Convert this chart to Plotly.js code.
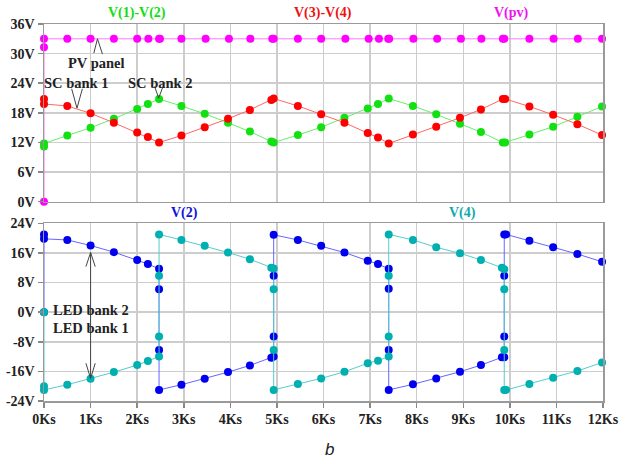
<!DOCTYPE html>
<html>
<head>
<meta charset="utf-8">
<script src="https://cdn.plot.ly/plotly-3.0.1.min.js"></script>
<style>html,body{margin:0;padding:0;background:#fff;}#chart{width:620px;height:460px;}</style>
</head>
<body>
<div id="chart"></div>
<script>
// ---- Data (time in Ks, voltage in V) ----
const tTop = [0,0, 0.5,1,1.5,2,2.23,2.47, 2.95,3.45,3.95,4.42,4.88,4.93, 5.45,5.95,6.45,6.95,7.17,7.4, 7.92,8.42,8.93,9.38,9.85,9.9, 10.42,10.93,11.45,11.98];
const v34 = [20.8,19.8, 19.4,17.9,16.0,14.0,13.1,12.0, 13.4,15.1,16.8,18.6,20.6,20.9, 19.4,17.7,16.0,13.9,13.0,11.8, 13.6,15.2,17.0,18.7,20.8,20.8, 19.3,17.6,15.7,13.5];
const v12 = [11.2,11.8, 13.4,15.0,16.8,18.8,19.8,20.8, 19.4,17.8,16.0,14.2,12.2,12.0, 13.5,15.1,17.0,18.9,19.8,20.9, 19.4,17.7,15.8,14.1,12.0,12.0, 13.6,15.2,17.2,19.3];
const tPv = [0,0,0, 0.5,1.0,1.5,2.0,2.24,2.47,2.49, 2.95,3.47,3.97,4.43,4.90,4.93, 5.45,5.95,6.47,6.97,7.19,7.39,7.41, 7.93,8.44,8.95,9.39,9.85,9.88, 10.42,10.94,11.46,11.98];
const vPv = [0,31.3,33.0, 33.0,33.0,33.0,33.0,33.0,33.0,33.0, 33.0,33.0,33.0,33.0,33.0,33.0, 33.0,33.0,33.0,33.0,33.0,33.0,33.0, 33.0,33.0,33.0,33.0,33.0,33.0, 33.0,33.0,33.0,33.0];
const tBot = [0,0,0, 0.5,1,1.5,2,2.23,2.47, 2.47,2.47,2.47, 2.95,3.45,3.95,4.42,4.88,4.93, 4.93,4.93,4.93, 5.45,5.95,6.45,6.95,7.17,7.4, 7.4,7.4,7.4, 7.92,8.42,8.93,9.38,9.83,9.88, 9.88,9.88,9.88,9.92, 10.42,10.93,11.45,11.98];
const v2 = [0,21.0,19.8, 19.5,18.0,16.2,14.1,13.0,11.7, 6.2,-10.2,-21.0, -19.6,-18.0,-16.2,-14.4,-12.3,-12.0, -6.6,9.8,20.9, 19.5,17.9,16.1,13.9,13.0,11.7, 6.3,-10.2,-21.0, -19.5,-17.9,-16.1,-14.3,-12.2,-12.2, -6.6,9.8,21.0,21.0, 19.3,17.5,15.7,13.6];
const v4 = [0,-20.0,-21.0, -19.6,-18.0,-16.2,-14.3,-13.2,-12.0, -6.6,9.8,21.0, 19.5,17.9,16.1,14.3,12.0,11.8, 6.2,-10.2,-21.0, -19.4,-17.9,-16.1,-13.8,-13.1,-12.0, -6.6,9.8,21.0, 19.5,17.5,15.9,14.1,12.0,11.6, 6.2,-10.2,-21.0,-21.0, -19.4,-17.7,-15.9,-13.6];

const xTickVals = [0,1,2,3,4,5,6,7,8,9,10,11,12];
const xTickText = ["0Ks","1Ks","2Ks","3Ks","4Ks","5Ks","6Ks","7Ks","8Ks","9Ks","10Ks","11Ks","12Ks"];
const yTopVals = [0,6,12,18,24,30,36];
const yTopText = ["0V","6V","12V","18V","24V","30V","36V"];
const yBotVals = [-24,-16,-8,0,8,16,24];
const yBotText = ["-24V","-16V","-8V","0V","8V","16V","24V"];

// ---- Styling ----
const serif = "Liberation Serif, Times New Roman, serif";
const tickFont = {family: serif, size: 14, color: '#222', weight: 'bold'};
const annFont = {family: serif, size: 14.5, color: '#222', weight: 'bold'};
function tr(x, y, lineC, markC, xa, ya) {
  return {x: x, y: y, xaxis: xa, yaxis: ya, type: 'scatter', mode: 'lines+markers',
    line: {color: lineC, width: 1}, marker: {color: markC, size: 8, line: {width: 0}},
    hoverinfo: 'skip', cliponaxis: false};
}
const data = [
  tr(tPv, vPv, '#ff77ff', '#ff00ff', 'x2', 'y2'),
  tr(tTop, v12, '#66ee66', '#11e011', 'x2', 'y2'),
  tr(tTop, v34, '#ff6666', '#ff0000', 'x2', 'y2'),
  tr(tBot, v2, '#6666ff', '#0000ee', 'x', 'y'),
  tr(tBot, v4, '#55cccc', '#00b0b0', 'x', 'y')
];
const axBase = {showgrid: true, gridcolor: '#cdcdcd', gridwidth: 1.5, zeroline: false,
  showline: true, mirror: true, linecolor: '#9a9a9a', linewidth: 1.5,
  ticks: 'outside', ticklen: 5, tickcolor: '#888', tickwidth: 1.5, tickfont: tickFont, fixedrange: true};
function title(text, xref, x, y, color) {
  return {text: text, xref: xref, yref: 'paper', x: x, y: y, xanchor: 'center', yanchor: 'middle', showarrow: false,
    font: {family: serif, size: 14, weight: 'bold', color: color}};
}
const layout = {
  width: 620, height: 460,
  margin: {l: 44, r: 17, t: 24, b: 59},
  paper_bgcolor: '#fff', plot_bgcolor: '#fff',
  showlegend: false, hovermode: false,
  xaxis: Object.assign({}, axBase, {range: [0, 12], domain: [0, 1], anchor: 'y', tickmode: 'array', tickvals: xTickVals, ticktext: xTickText}),
  yaxis: Object.assign({}, axBase, {range: [-24, 24], domain: [0, 0.4714], anchor: 'x', tickmode: 'array', tickvals: yBotVals, ticktext: yBotText}),
  xaxis2: Object.assign({}, axBase, {range: [0, 12], domain: [0, 1], anchor: 'y2', tickmode: 'array', tickvals: xTickVals, showticklabels: false, ticks: ''}),
  yaxis2: Object.assign({}, axBase, {range: [0, 36], domain: [0.5286, 1], anchor: 'x2', tickmode: 'array', tickvals: yTopVals, ticktext: yTopText}),
  annotations: [
    title('V(1)-V(2)', 'x2', 1.99, 1.028, '#11dd11'),
    title('V(3)-V(4)', 'x2', 5.98, 1.028, '#ee1111'),
    title('V(pv)', 'x2', 10.04, 1.028, '#ee11ee'),
    title('V(2)', 'x', 3.01, 0.5, '#1111dd'),
    title('V(4)', 'x', 8.99, 0.5, '#11aaaa'),
    {text: 'PV panel', xref: 'x2', yref: 'y2', x: 1.13, y: 28.1, showarrow: false, font: annFont},
    {text: 'SC bank 1', xref: 'x2', yref: 'y2', x: 0.69, y: 24.0, showarrow: false, font: annFont},
    {text: 'SC bank 2', xref: 'x2', yref: 'y2', x: 2.48, y: 24.1, showarrow: false, font: annFont},
    {text: 'LED bank 2', xref: 'x', yref: 'y', x: 1.0, y: 0.6, showarrow: false, font: annFont},
    {text: 'LED bank 1', xref: 'x', yref: 'y', x: 1.0, y: -4.35, showarrow: false, font: annFont},
    {text: 'b', xref: 'paper', yref: 'paper', x: (329 - 44) / 559, y: (401 - 449) / 377, xanchor: 'center', yanchor: 'middle', showarrow: false,
      font: {family: 'Liberation Sans, Arial, sans-serif', size: 17, style: 'italic', color: '#222'}}
  ],
  shapes: [
    {type: 'path', xref: 'x2', yref: 'y2', path: 'M1.07,30.1 L1.148,33.0 L1.255,29.9', line: {color: '#444', width: 1}},
    {type: 'path', xref: 'x2', yref: 'y2', path: 'M0.594,22.87 L0.708,18.95 L0.824,22.87', line: {color: '#444', width: 1}},
    {type: 'path', xref: 'x2', yref: 'y2', path: 'M2.376,23.33 L2.461,20.98 L2.554,23.33', line: {color: '#444', width: 1}},
    {type: 'line', xref: 'x', yref: 'y', x0: 1.0, x1: 1.0, y0: 16.1, y1: -17.9, line: {color: '#444', width: 1}},
    {type: 'path', xref: 'x', yref: 'y', path: 'M0.9,12.3 L1.0,16.1 L1.1,12.3', line: {color: '#444', width: 1}},
    {type: 'path', xref: 'x', yref: 'y', path: 'M0.9,-13.8 L1.0,-17.9 L1.1,-13.8', line: {color: '#444', width: 1}}
  ]
};
Plotly.newPlot('chart', data, layout, {staticPlot: true, displayModeBar: false});
</script>
</body>
</html>
